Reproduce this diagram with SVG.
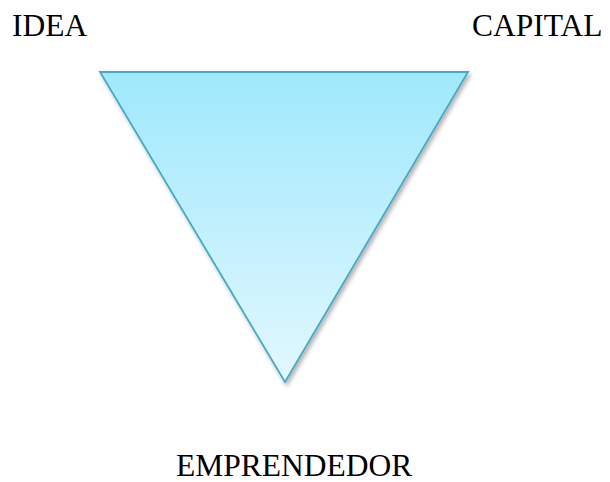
<svg xmlns="http://www.w3.org/2000/svg" width="610" height="482" viewBox="0 0 610 482">
<style>
.lbl{font-family:"Liberation Serif","Times New Roman",serif;font-size:31.5px;fill:#000}
</style>
<defs>
<linearGradient id="g" x1="0" y1="0" x2="0" y2="1">
<stop offset="0" stop-color="#9fe8fc"/>
<stop offset="1" stop-color="#e2f8fe"/>
</linearGradient>
<filter id="sh" x="-10%" y="-10%" width="130%" height="130%">
<feGaussianBlur in="SourceAlpha" stdDeviation="2"/>
<feOffset dx="2" dy="3"/>
<feComponentTransfer><feFuncA type="linear" slope="0.3"/></feComponentTransfer>
<feMerge><feMergeNode/><feMergeNode in="SourceGraphic"/></feMerge>
</filter>
</defs>
<rect width="610" height="482" fill="#fff"/>
<g id="triangle">
<polygon points="100,72 468,72 285,382" fill="url(#g)" stroke="#46a8c8" stroke-width="1.8" stroke-linejoin="miter" filter="url(#sh)"/>
</g>
<g id="idea"><text class="lbl" x="12" y="36">IDEA</text></g>
<g id="capital"><text class="lbl" x="472" y="36">CAPITAL</text></g>
<g id="emprendedor"><text class="lbl" x="176" y="476">EMPRENDEDOR</text></g>
<g id="connectors"></g>
</svg>
